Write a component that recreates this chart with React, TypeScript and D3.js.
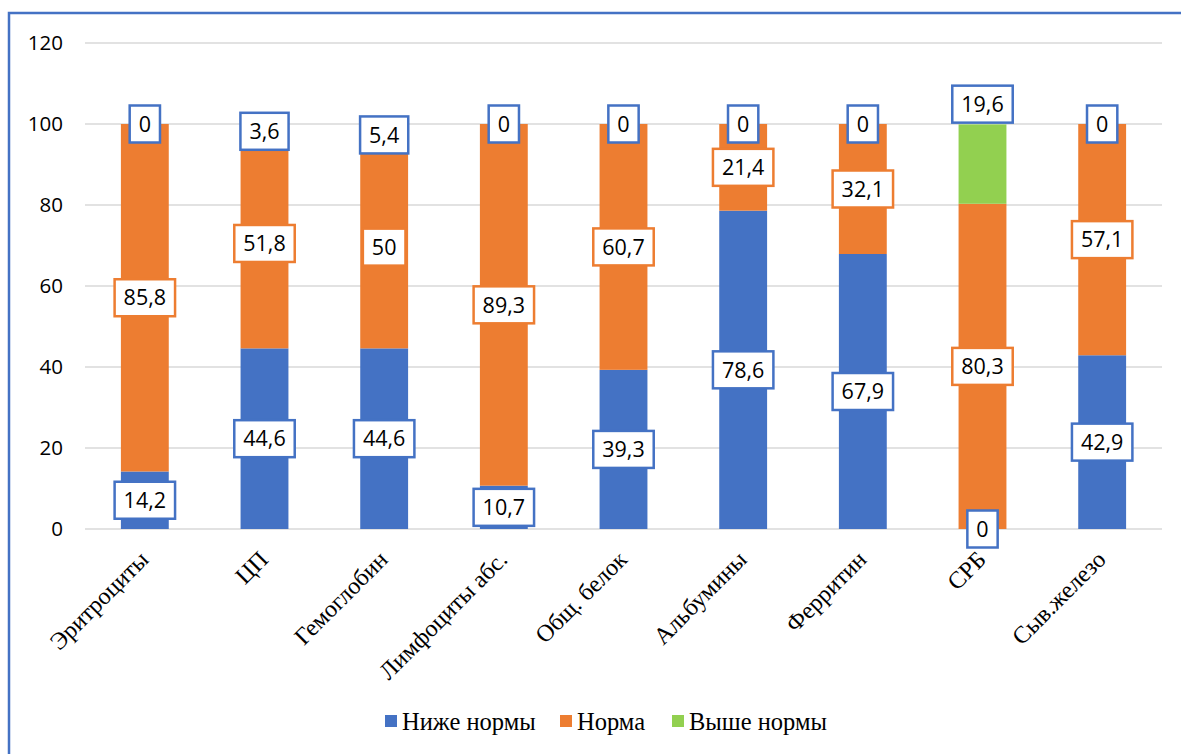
import React, { useEffect, useRef } from "react";
import * as d3 from "d3";

const categories = ["Эритроциты", "ЦП", "Гемоглобин", "Лимфоциты абс.", "Общ. белок", "Альбумины", "Ферритин", "СРБ", "Сыв.железо"];
const belowNorm = [14.2, 44.6, 44.6, 10.7, 39.3, 78.6, 67.9, 0, 42.9];
const norm = [85.8, 51.8, 50, 89.3, 60.7, 21.4, 32.1, 80.3, 57.1];
const aboveNorm = [0, 3.6, 5.4, 0, 0, 0, 0, 19.6, 0];
const seriesNames = ["Ниже нормы", "Норма", "Выше нормы"];
const yTicks = [0, 20, 40, 60, 80, 100, 120];

const COLORS = ["#4472C4", "#ED7D31", "#92D050"];
const LABEL_BORDERS = ["#4472C4", "#ED7D31", "#4472C4"];
const SERIF = "Liberation Serif, Times New Roman, DejaVu Serif, serif";
const SANS = "Open Sans, Noto Sans, sans-serif";

export default function App() {
  const ref = useRef<SVGSVGElement>(null);

  useEffect(() => {
    const svg = d3.select(ref.current);
    svg.selectAll("*").remove();

    const W = 1181, H = 754;
    const x = d3.scaleBand<string>().domain(categories).range([85, 1162]).paddingInner(0.6).paddingOuter(0.3);
    const y = d3.scaleLinear().domain([0, 120]).range([529, 43]);

    svg.append("rect").attr("width", W).attr("height", H).attr("fill", "#fff");

    // chart border (left + top visible)
    svg.append("path")
      .attr("d", `M9,${H + 5} L9,13 L${W + 5},13`)
      .attr("fill", "none").attr("stroke", "#4472C4").attr("stroke-width", 2.5);

    // gridlines
    svg.append("g").selectAll("line").data(yTicks).join("line")
      .attr("x1", 85).attr("x2", 1162)
      .attr("y1", (d) => y(d)).attr("y2", (d) => y(d))
      .attr("stroke", "#d9d9d9").attr("stroke-width", 1.5);

    // y tick labels
    svg.append("g").selectAll("text").data(yTicks).join("text")
      .attr("x", 63).attr("y", (d) => y(d)).attr("dy", "0.35em")
      .attr("text-anchor", "end")
      .style("font-family", SANS).style("font-size", "20.5px").attr("fill", "#000")
      .text((d) => String(d));

    const seriesData = [belowNorm, norm, aboveNorm];
    const rows = categories.map((c, i) => ({ cat: c, s0: belowNorm[i], s1: norm[i], s2: aboveNorm[i] }));
    const stack = d3.stack<any>().keys(["s0", "s1", "s2"]);
    const stacked = stack(rows);

    // bars
    stacked.forEach((layer, si) => {
      svg.append("g").selectAll("rect").data(layer).join("rect")
        .attr("x", (d: any) => x(d.data.cat)!)
        .attr("width", x.bandwidth())
        .attr("y", (d: any) => y(d[1]))
        .attr("height", (d: any) => Math.max(0, y(d[0]) - y(d[1])))
        .attr("fill", COLORS[si]);
    });

    // data labels
    const labelsG = svg.append("g");
    stacked.forEach((layer, si) => {
      layer.forEach((d: any, i: number) => {
        const v = seriesData[si][i];
        let center = (d[0] + d[1]) / 2;
        if (si === 2 && v > 10) center = d[1] + 5;
        const cx = x(d.data.cat)! + x.bandwidth() / 2;
        const cy = y(center);
        const g = labelsG.append("g");
        const rect = g.append("rect");
        const t = g.append("text")
          .attr("x", cx).attr("y", cy).attr("dy", "0.36em")
          .attr("text-anchor", "middle")
          .style("font-family", SANS).style("font-size", "21.5px").attr("fill", "#000")
          .text(String(v).replace(".", ","));
        const w = (t.node() as SVGTextElement).getComputedTextLength();
        const bw = w + 18, bh = 37;
        rect.attr("x", cx - bw / 2).attr("y", cy - bh / 2).attr("width", bw).attr("height", bh)
          .attr("fill", "#fff").attr("stroke", LABEL_BORDERS[si]).attr("stroke-width", 2.5);
      });
    });

    // x labels
    svg.append("g").selectAll("text").data(categories).join("text")
      .attr("transform", (d) => `translate(${x(d)! + x.bandwidth() / 2 + 5},${561}) rotate(-45)`)
      .attr("text-anchor", "end")
      .style("font-family", SERIF).style("font-size", "24px").attr("fill", "#000")
      .text((d) => d);

    // legend
    const legendX = [385, 560, 672];
    const lg = svg.append("g");
    seriesNames.forEach((n, i) => {
      lg.append("rect").attr("x", legendX[i]).attr("y", 715).attr("width", 12).attr("height", 12).attr("fill", COLORS[i]);
      lg.append("text").attr("x", legendX[i] + 17).attr("y", 721).attr("dy", "0.35em")
        .style("font-family", SERIF).style("font-size", "24.5px").attr("fill", "#000")
        .text(n);
    });
  }, []);

  return <svg ref={ref} width={1181} height={754} style={{ position: "absolute", left: 0, top: 0 }} />;
}
